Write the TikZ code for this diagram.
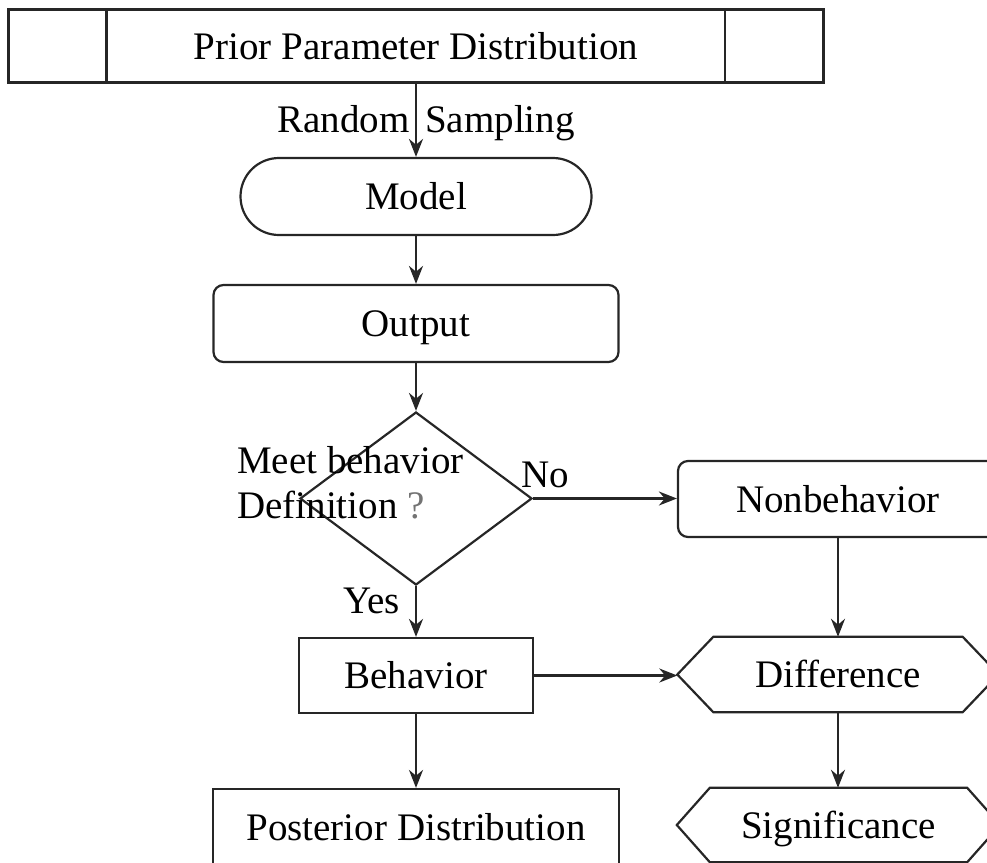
\documentclass[tikz,border=0pt]{standalone}
\usepackage{fontspec}
\setmainfont{Liberation Serif}
\usetikzlibrary{shapes.misc,shapes.geometric,arrows.meta}

\begin{document}
\begin{tikzpicture}[x=1pt,y=-1pt,
  every node/.style={inner sep=0pt, font=\fontsize{39}{45}\selectfont},
  line/.style={draw=black!85, line width=2.2pt},
  conn/.style={line, -{Stealth[length=18pt,width=14pt]}},
  boxtext/.style={text height=26pt, text depth=0pt},
  plainbox/.style={line, rectangle, boxtext},
  roundbox/.style={line, rectangle, rounded corners=10pt, boxtext},
  hexpath/.style={line, line join=miter}
]
\useasboundingbox (0,0) rectangle (987,862);
\clip (0,0) rectangle (987,862);

% prior distribution box with side compartments
\node[plainbox, minimum width=815pt, minimum height=73pt] (prior) at (416,46) {Prior Parameter Distribution};
\draw[line] ([xshift=99pt]prior.north west) -- ([xshift=99pt]prior.south west);
\draw[line] ([xshift=-100pt]prior.north east) -- ([xshift=-100pt]prior.south east);

% main column
\node[line, rounded rectangle, boxtext, minimum width=351pt, minimum height=77pt] (model) at (416,196.5) {Model};
\node[roundbox, minimum width=405pt, minimum height=77pt] (output) at (416,323.5) {Output};
\node[line, diamond, minimum width=232pt, minimum height=173pt] (decide) at (416,498.5) {};
\node[anchor=base west] (qline1) at (237,473) {Meet behavior};
\node[anchor=base west] (qline2) at (237,518) {Definition \textcolor{black!55}{?}};
\node[plainbox, minimum width=234pt, minimum height=75pt] (beh) at (416,675.5) {Behavior};
\node[plainbox, minimum width=406pt, minimum height=77pt] (post) at (416,827.5) {Posterior Distribution};

% right column
\node[roundbox, minimum width=320pt, minimum height=76pt] (nonbeh) at (838,499) {Nonbehavior};
\node[boxtext, minimum width=321pt, minimum height=75pt] (diff) at (838,674.5) {Difference};
\draw[hexpath] (diff.west) -- ([xshift=36pt]diff.north west) -- ([xshift=-36pt]diff.north east)
  -- (diff.east) -- ([xshift=-36pt]diff.south east) -- ([xshift=36pt]diff.south west) -- cycle;
\node[boxtext, minimum width=323pt, minimum height=74pt] (signif) at (838.5,825) {Significance};
\draw[hexpath] (signif.west) -- ([xshift=33pt]signif.north west) -- ([xshift=-33pt]signif.north east)
  -- (signif.east) -- ([xshift=-33pt]signif.south east) -- ([xshift=33pt]signif.south west) -- cycle;

% edge labels
\node[anchor=base east] (lblrandom) at (410,132) {Random};
\node[anchor=base west] (lblsampling) at (425,132) {Sampling};
\node[anchor=base west] (lblno) at (521,487) {No};
\node[anchor=base east] (lblyes) at (400,613) {Yes};

% connectors
\draw[conn] (prior.south) -- (model.north);
\draw[conn] (model.south) -- (output.north);
\draw[conn] (output.south) -- (decide.north);
\draw[conn] (decide.south) -- (beh.north);
\draw[conn] (beh.south) -- (post.north);
\draw[conn] (decide.east) -- (decide.east -| nonbeh.west);
\draw[conn] (nonbeh.south) -- (nonbeh.south |- diff.north);
\draw[conn] (beh.east) -- (beh.east -| diff.west);
\draw[conn] (diff.south) -- (diff.south |- signif.north);
\end{tikzpicture}
\end{document}
